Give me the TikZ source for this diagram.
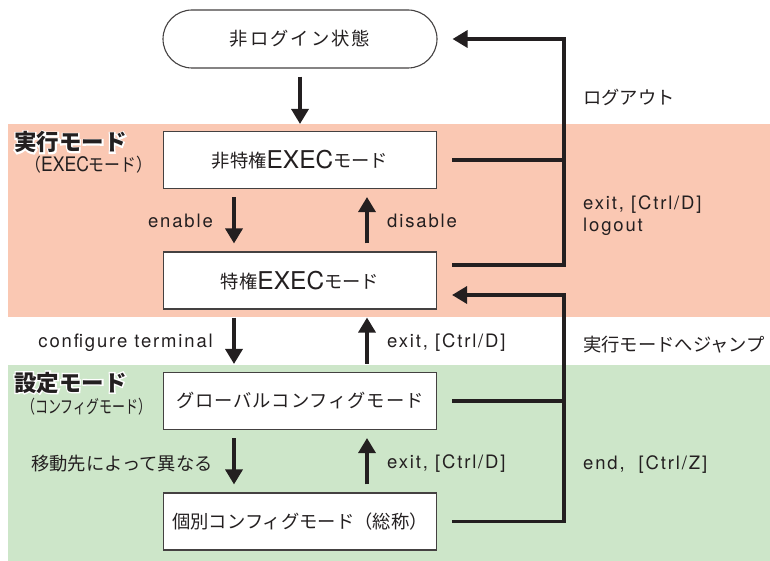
\documentclass[tikz,border=0pt]{standalone}
\usepackage{fontspec}
\setmainfont{TeX Gyre Heros}[LetterSpace=10]
\newfontfamily\jp{Noto Sans CJK JP}
\newfontfamily\jphalo{Noto Sans CJK JP}[FakeBold=12]
\newfontfamily\lat{TeX Gyre Heros}
\usetikzlibrary{arrows.meta,calc}
\definecolor{ink}{HTML}{231F20}
\definecolor{salmon}{HTML}{FAC8B3}
\definecolor{mint}{HTML}{CDE6C9}
\newcommand\bigexec{\raisebox{-1.2pt}{\lat\fontsize{24.5}{28}\selectfont EXEC}}
\newcommand\halolabel[3]{%
  \node[mode, font=\jphalo\bfseries\fontsize{22.5}{26}\selectfont, text=white, anchor=base west] (#2h) at (#1) {#3};
  \node[mode, anchor=base west] (#2) at (#1) {#3};}
\begin{document}
\begin{tikzpicture}[x=1pt,y=-1pt,
  box/.style={draw=ink!85, line width=1.1pt, fill=white, minimum width=273pt, minimum height=57pt,
    font=\jp\fontsize{18.3}{22}\selectfont, text=ink, inner sep=0pt},
  pill/.style={box, minimum height=58pt, minimum width=274pt, rounded corners=29pt},
  lab/.style={font=\fontsize{18.5}{22}\selectfont, text=ink, inner sep=0pt},
  jlab/.style={font=\jp\fontsize{18.3}{22}\selectfont, text=ink, inner sep=0pt},
  mode/.style={font=\jp\bfseries\fontsize{22.5}{26}\selectfont, text=ink, inner sep=0pt},
  sub/.style={font=\jp\fontsize{18}{20}\selectfont, text=ink, inner sep=0pt},
  arr/.style={draw=ink, line width=3.4pt, -{Triangle[length=15pt,width=17pt]}},
  conn/.style={draw=ink, line width=3.4pt},
]
\useasboundingbox (0,0) rectangle (770,561);
\fill[salmon] (8,124) rectangle (770,317);
\fill[mint] (8,365) rectangle (770,561);

\node[pill] (s0) at (300,39) {\addfontfeature{LetterSpace=11}非ログイン状態};
\node[box] (s1) at (300,160) {非特権\bigexec モード};
\node[box] (s2) at (300,280.5) {特権\bigexec モード};
\node[box] (s3) at (300,401) {\addfontfeature{LetterSpace=5}グローバルコンフィグモード};
\node[box] (s4) at (300,521.5) {個別コンフィグモード（総称）};

\coordinate (L) at (234,0);
\coordinate (R) at (367,0);
\coordinate (V) at (564,0);
\coordinate (s2out) at ([yshift=15.5pt]s2.east);
\coordinate (s2in) at ([yshift=-14.5pt]s2.east);

\draw[arr, shorten <=8pt, shorten >=7pt] (s0) -- (s1);
\draw[arr, shorten <=8pt, shorten >=8pt] (s1.south -| L) -- (s2.north -| L);
\draw[arr, shorten <=8pt, shorten >=8pt] (s2.north -| R) -- (s1.south -| R);
\draw[arr, shorten <=8pt, shorten >=8pt] (s2.south -| L) -- (s3.north -| L);
\draw[arr, shorten <=8pt, shorten >=8pt] (s3.north -| R) -- (s2.south -| R);
\draw[arr, shorten <=8pt, shorten >=8pt] (s3.south -| L) -- (s4.north -| L);
\draw[arr, shorten <=8pt, shorten >=8pt] (s4.north -| R) -- (s3.south -| R);

\draw[conn] ([xshift=15pt]s1.east) -- (s1.east -| V);
\draw[arr] ([xshift=15pt]s2out) -| (s0.east -| V) -- ([xshift=15pt]s0.east);
\draw[conn] ([xshift=15pt]s3.east) -- (s3.east -| V);
\draw[arr] ([xshift=15pt]s4.east) -| (s2in -| V) -- ([xshift=15pt]s2in);

\node[lab, anchor=base east] (tEn) at (213,228) {enable};
\node[lab, anchor=base west] (tDis) at (387,228) {disable};
\node[lab, anchor=base east] (tConf) at (213,347) {configure terminal};
\node[lab, anchor=base west] (tEx1) at (387,347) {exit, [Ctrl/D]};
\node[jlab, anchor=base east] (tMove) at (213,470) {移動先によって異なる};
\node[lab, anchor=base west] (tEx2) at (387,468) {exit, [Ctrl/D]};
\node[jlab, anchor=base west] (tLog) at (583,105) {ログアウト};
\node[lab, anchor=base west] (tExA) at (583,210) {exit, [Ctrl/D]};
\node[lab, anchor=base west] (tExB) at (583,232) {logout};
\node[jlab, anchor=base west] (tJump) at (583,351) {実行モードへジャンプ};
\node[lab, anchor=base west] (tEnd) at (583,469) {end,\ \ [Ctrl/Z]};

\coordinate (m1) at (14,151);
\coordinate (m2) at (14,391);
\halolabel{m1}{mExec}{実行モード}
\halolabel{m2}{mConf}{設定モード}
\node[sub, anchor=base west] (mExecSub) at (25,172) {\scalebox{0.88}[1]{（{\lat\fontsize{20}{22}\selectfont EXEC}モード）}};
\node[sub, anchor=base west] (mConfSub) at (22,413) {\scalebox{0.72}[1]{（コンフィグモード）}};
\end{tikzpicture}
\end{document}
